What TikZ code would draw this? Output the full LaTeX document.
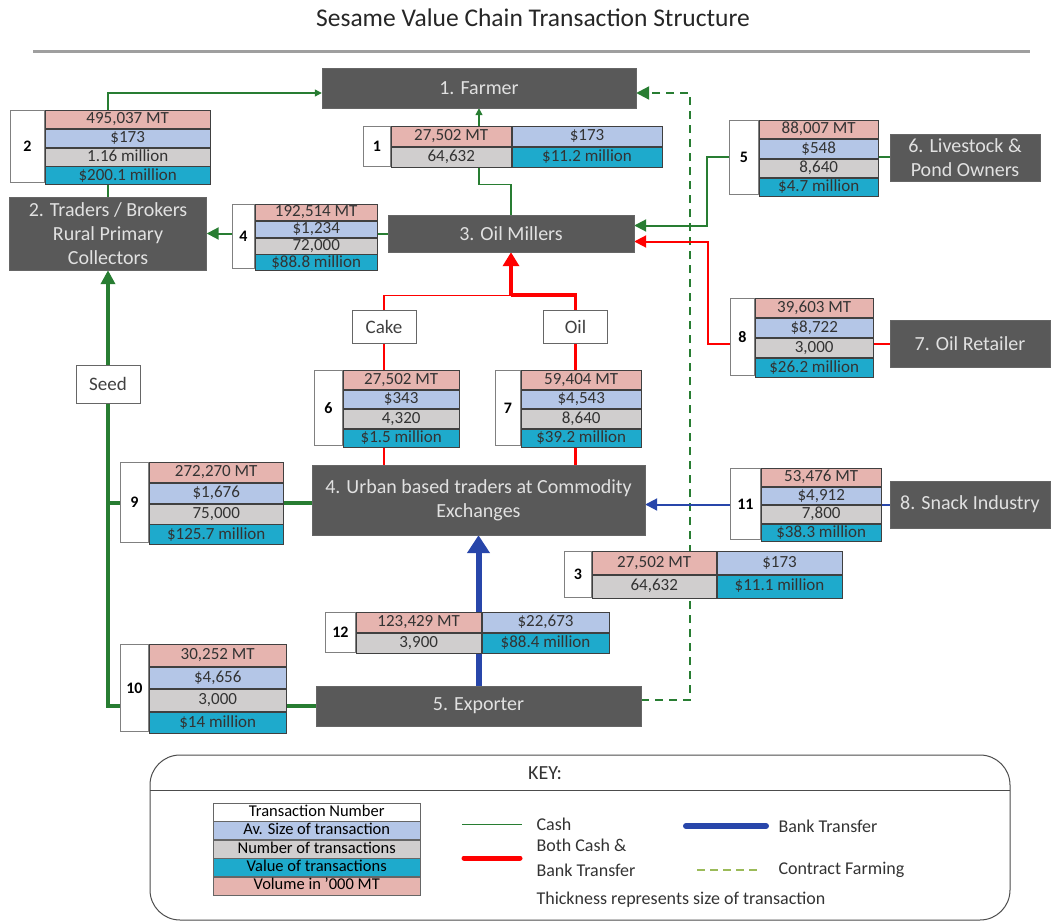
\documentclass[tikz,border=0pt]{standalone}
\usepackage{fontspec}
\setmainfont{Carlito}
\usetikzlibrary{arrows.meta,positioning}
\pgfdeclarelayer{background}
\pgfsetlayers{background,main}

\definecolor{boxgrey}{RGB}{89,89,89}
\definecolor{boxtext}{RGB}{225,225,225}
\definecolor{volpink}{RGB}{230,180,175}
\definecolor{avgblue}{RGB}{180,198,231}
\definecolor{cntgrey}{RGB}{208,206,206}
\definecolor{valcyan}{RGB}{30,170,204}
\definecolor{cashgreen}{RGB}{40,125,50}
\definecolor{bankblue}{RGB}{40,70,170}
\definecolor{keydash}{RGB}{155,187,89}

\pgfkeys{/tx/.cd, nw/.store in=\txnw, dw/.store in=\txdw, rh/.store in=\txrh,
  cw/.store in=\txcw, cv/.store in=\txcv}

% table of one transaction, in one column: name, sizes, top left, number, volume, av. size, count, value
\newcommand{\txstack}[8]{%
  \pgfkeys{/tx/.cd,#2}%
  \node[numcell, minimum width=\txnw, minimum height=4*\txrh, anchor=north west] (#1) at (#3) {#4};
  \node[cell, fill=volpink, minimum width=\txdw, minimum height=\txrh, anchor=north west] (#1-v) at (#1.north east) {#5};
  \node[cell, fill=avgblue, minimum width=\txdw, minimum height=\txrh, below=0pt of #1-v] (#1-a) {#6};
  \node[cell, fill=cntgrey, minimum width=\txdw, minimum height=\txrh, below=0pt of #1-a] (#1-c) {#7};
  \node[cell, fill=valcyan, minimum width=\txdw, minimum height=\txrh, below=0pt of #1-c] (#1-w) {#8};
}
% same, as two rows of two
\newcommand{\txgrid}[8]{%
  \pgfkeys{/tx/.cd,#2}%
  \node[numcell, minimum width=\txnw, minimum height=2*\txrh, anchor=north west] (#1) at (#3) {#4};
  \node[cell, fill=volpink, minimum width=\txcw, minimum height=\txrh, anchor=north west] (#1-v) at (#1.north east) {#5};
  \node[cell, fill=avgblue, minimum width=\txcv, minimum height=\txrh, anchor=north west] (#1-a) at (#1-v.north east) {#6};
  \node[cell, fill=cntgrey, minimum width=\txcw, minimum height=\txrh, anchor=north west] (#1-c) at (#1-v.south west) {#7};
  \node[cell, fill=valcyan, minimum width=\txcv, minimum height=\txrh, anchor=north west] (#1-w) at (#1-c.north east) {#8};
}

\begin{document}
\begin{tikzpicture}[x=1pt, y=-1pt,
    entity/.style={fill=boxgrey, draw=black!60, text=boxtext, align=center,
      font=\fontsize{20}{24}\selectfont, inner sep=2pt},
    cell/.style={draw=black!75, line width=0.8pt, inner sep=0pt, text height=11.5pt,
      text depth=3pt, text=black!80, font=\fontsize{17}{19}\selectfont},
    numcell/.style={draw=gray, fill=white, line width=0.8pt, inner sep=0pt,
      font=\bfseries\fontsize{16}{18}\selectfont},
    prodbox/.style={draw=gray!80!black, fill=white, minimum width=64, minimum height=33,
      text=black!75, font=\fontsize{19}{22}\selectfont},
    keycell/.style={draw=black!60, minimum width=207, minimum height=18, inner sep=0pt,
      text height=11pt, text depth=3pt, font=\fontsize{16.5}{18}\selectfont},
    keytext/.style={anchor=west, text=black!80, font=\fontsize{18}{25}\selectfont},
    cash/.style={draw=cashgreen, line width=1.2pt},
    both/.style={draw=red},
    bank/.style={draw=bankblue},
    contract/.style={draw=cashgreen, line width=2.2pt, dash pattern=on 8pt off 6pt}]
  \useasboundingbox (0,0) rectangle (1052,923);

  \node[font=\fontsize{25.5}{28}\selectfont, text=black!85] (title) at (533,18) {Sesame Value Chain Transaction Structure};
  \draw[line width=3pt, gray!75] (33,52) -- (1030,52);

  % actors
  \node[entity, minimum width=314, minimum height=40] (farmer) at (479,88) {1. Farmer};
  \node[entity, minimum width=197, minimum height=73] (traders) at (108,233.5) {2. Traders / Brokers\\Rural Primary\\Collectors};
  \node[entity, minimum width=246, minimum height=37] (millers) at (511,233.5) {3. Oil Millers};
  \node[entity, minimum width=333, minimum height=70] (urban) at (478.5,500) {4. Urban based traders at Commodity\\Exchanges};
  \node[entity, minimum width=325, minimum height=40] (exporter) at (478.5,706) {5. Exporter};
  \node[entity, minimum width=150, minimum height=47] (livestock) at (965,157.5) {6. Livestock \&\\Pond Owners};
  \node[entity, minimum width=160, minimum height=47] (retailer) at (970,343.5) {7. Oil Retailer};
  \node[entity, minimum width=160, minimum height=47] (snack) at (970,504.5) {8. Snack Industry};

  \node[prodbox] (cake) at (384,326.5) {Cake};
  \node[prodbox] (oil) at (575.5,326.5) {Oil};
  \node[prodbox, minimum height=38] (seed) at (108,384) {Seed};
  \coordinate (split) at ([yshift=-43pt]millers.south);

  % flows
  \begin{pgfonlayer}{background}
    \draw[cash, -{Triangle[length=7pt,width=7pt]}] (traders.north) |- ([yshift=-5pt]farmer.west);
    \draw[cash, -{Triangle[length=7pt,width=7pt]}] (millers.north) -- ++(0,-30) -| (farmer.south);
    \draw[contract, -{Triangle[length=13pt,width=13pt]}] ([yshift=6pt]exporter.east) -- ++(49,0) |- ([yshift=-5pt]farmer.east);
    \draw[cash, line width=2pt, -{Triangle[length=12pt,width=12pt]}] (millers.west) -- (millers.west -| traders.east);
    \draw[cash, line width=2pt, -{Triangle[length=12pt,width=12pt]}] (livestock.west) -- ++(-183,0) |- ([yshift=8pt]millers.east);
    \draw[both, line width=2pt, -{Triangle[length=12pt,width=12pt]}] (retailer.west) -- ++(-182,0) |- ([yshift=-8pt]millers.east);

    \draw[both, line width=1.2pt] (cake.south) -- (cake.south |- urban.north);
    \draw[both, line width=1.2pt] (cake.north) |- (split);
    \draw[both, line width=3.5pt] (oil.south) -- (oil.south |- urban.north);
    \draw[both, line width=3.5pt] (oil.north) |- (split);
    \draw[both, line width=4pt, -{Triangle[length=14pt,width=16pt]}] (split) -- (millers.south);

    \draw[cash, line width=3.5pt] ([yshift=-3pt]urban.west) -| (seed.south);
    \draw[cash, line width=4pt] (exporter.west) -| (seed.south);
    \draw[cash, line width=3.5pt, -{Triangle[length=14pt,width=14pt]}] (seed.north) -- (traders.south);

    \draw[bank, line width=2pt, -{Triangle[length=12pt,width=12pt]}] (snack.west) -- (snack.west -| urban.east);
    \draw[bank, line width=6pt, -{Triangle[length=18pt,width=22pt]}] (exporter.north) -- (urban.south);
  \end{pgfonlayer}

  % transactions
  \txstack{t2}{nw=34,dw=165,rh=18}{10,110}{2}{495,037 MT}{\$173}{1.16 million}{\$200.1 million}
  \txgrid{t1}{nw=27,cw=120,cv=150,rh=20}{363,126}{1}{27,502 MT}{\$173}{64,632}{\$11.2 million}
  \txstack{t5}{nw=29,dw=119,rh=18.5}{729,120}{5}{88,007 MT}{\$548}{8,640}{\$4.7 million}
  \txstack{t4}{nw=22,dw=122,rh=16}{232,204}{4}{192,514 MT}{\$1,234}{72,000}{\$88.8 million}
  \txstack{t8}{nw=24,dw=118,rh=19.25}{730,298}{8}{39,603 MT}{\$8,722}{3,000}{\$26.2 million}
  \txstack{t6}{nw=28,dw=116,rh=18.75}{314,370}{6}{27,502 MT}{\$343}{4,320}{\$1.5 million}
  \txstack{t7}{nw=25,dw=120,rh=18.75}{495,370}{7}{59,404 MT}{\$4,543}{8,640}{\$39.2 million}
  \txstack{t9}{nw=28,dw=134,rh=20}{120,462}{9}{272,270 MT}{\$1,676}{75,000}{\$125.7 million}
  \txstack{t11}{nw=30,dw=120,rh=17.75}{730,468}{11}{53,476 MT}{\$4,912}{7,800}{\$38.3 million}
  \txgrid{t3}{nw=27,cw=124,cv=125,rh=23}{564,551}{3}{27,502 MT}{\$173}{64,632}{\$11.1 million}
  \txgrid{t12}{nw=30,cw=125,cv=127,rh=20}{325,612}{12}{123,429 MT}{\$22,673}{3,900}{\$88.4 million}
  \txstack{t10}{nw=28,dw=137,rh=21.75}{120,644}{10}{30,252 MT}{\$4,656}{3,000}{\$14 million}

  % key
  \draw[black!70, line width=1pt, rounded corners=30pt] (150,755) rectangle (1010,920);
  \draw[black!70, line width=1pt] (150,790) -- (1010,790);
  \node[text=black!80, font=\fontsize{20}{22}\selectfont] (keytitle) at (545,773) {KEY:};
  \node[keycell, fill=white, anchor=north west] (k1) at (213,803) {Transaction Number};
  \node[keycell, fill=avgblue, below=0pt of k1] (k2) {Av. Size of transaction};
  \node[keycell, fill=cntgrey, below=0pt of k2] (k3) {Number of transactions};
  \node[keycell, fill=valcyan, below=0pt of k3] (k4) {Value of transactions};
  \node[keycell, fill=volpink, below=0pt of k4] (k5) {Volume in '000 MT};

  \draw[cash, line width=1pt] (462,824) -- (522,824);
  \node[keytext] (kcash) at (533,824) {Cash};
  \draw[both, line width=5pt, line cap=round] (464,858) -- (520,858);
  \node[keytext, align=left] (kboth) at (533,858) {Both Cash \&\\Bank Transfer};
  \draw[bank, line width=6pt, line cap=round] (686,826) -- (766,826);
  \node[keytext] (kbank) at (775,826) {Bank Transfer};
  \draw[keydash, line width=2.5pt, dash pattern=on 8pt off 5pt] (697,870) -- (760,870);
  \node[keytext] (kcontract) at (775,870) {Contract Farming};
  \node[keytext] (kthick) at (533,900) {Thickness represents size of transaction};
\end{tikzpicture}
\end{document}
